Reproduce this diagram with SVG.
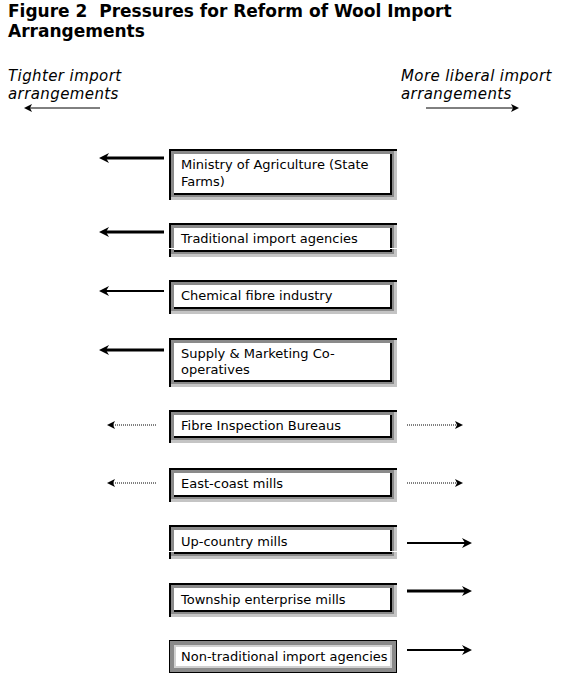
<svg xmlns="http://www.w3.org/2000/svg" width="580" height="698" viewBox="0 0 580 698">
<style>
.t{font-family:"DejaVu Sans",Verdana,sans-serif;font-size:13px;fill:#000}
.h{font-family:"DejaVu Sans",Verdana,sans-serif;font-size:17px;font-weight:bold;fill:#000;white-space:pre}
.i{font-family:"DejaVu Sans",Verdana,sans-serif;font-size:15px;font-style:italic;letter-spacing:0.4px;fill:#000}
.fr{fill:#8a8a8a}
.dk{fill:none;stroke:#000;stroke-width:2}
.lt{fill:none;stroke:#c4c4c4;stroke-width:3}
.in{fill:#fff}
.ib{fill:none;stroke:#000;stroke-width:2}
.wl{fill:none;stroke:#fff;stroke-width:1}
.a3{fill:none;stroke:#000;stroke-width:3}
.a2{fill:none;stroke:#000;stroke-width:2}
.a1{fill:none;stroke:#000;stroke-width:1}
.dt{fill:none;stroke:#000;stroke-width:1;stroke-dasharray:1 1}
.ah{fill:#000}
</style>
<defs>
<path id="hl" d="M0,0 L10,-5 L7,0 L10,5 Z"/>
<path id="hr" d="M0,0 L-10,-5 L-7,0 L-10,5 Z"/>
<path id="sl" d="M0,0 L8,-4 L6,0 L8,4 Z"/>
<path id="sr" d="M0,0 L-8,-4 L-6,0 L-8,4 Z"/>
</defs>
<rect width="580" height="698" fill="#fff"/>
<g id="title">
<text class="h" x="8" y="17" xml:space="preserve">Figure 2  Pressures for Reform of Wool Import</text>
<text class="h" x="8" y="37">Arrangements</text>
</g>
<g id="legend-left">
<text class="i" x="8" y="81">Tighter import</text>
<text class="i" x="8" y="99">arrangements</text>
</g>
<g id="legend-right">
<text class="i" x="401" y="81">More liberal import</text>
<text class="i" x="401" y="99">arrangements</text>
</g>
<g id="n1">
<rect class="fr" x="169" y="149" width="228" height="51"/>
<path class="lt" d="M395.5,150 V198.5 H169"/>
<path class="dk" d="M170,200 V150 H397"/>
<rect class="in" x="174" y="154" width="218" height="41"/>
<path class="ib" d="M391,154 V194 H174"/>
<text class="t" x="181" y="169">Ministry of Agriculture (State</text>
<text class="t" x="181" y="186">Farms)</text>
</g>
<g id="n2">
<rect class="fr" x="169" y="223" width="228" height="34"/>
<path class="lt" d="M395.5,224 V255.5 H169"/>
<path class="dk" d="M170,257 V224 H397"/>
<rect class="in" x="174" y="228" width="218" height="24"/>
<path class="ib" d="M391,228 V251 H174"/>
<path class="wl" d="M169,248.5 H399"/>
<text class="t" x="181" y="243">Traditional import agencies</text>
</g>
<g id="n3">
<rect class="fr" x="169" y="280" width="228" height="34"/>
<path class="lt" d="M395.5,281 V312.5 H169"/>
<path class="dk" d="M170,314 V281 H397"/>
<rect class="in" x="174" y="285" width="218" height="24"/>
<path class="ib" d="M391,285 V308 H174"/>
<text class="t" x="181" y="300">Chemical fibre industry</text>
</g>
<g id="n4">
<rect class="fr" x="169" y="338" width="228" height="49"/>
<path class="lt" d="M395.5,339 V385.5 H169"/>
<path class="dk" d="M170,387 V339 H397"/>
<rect class="in" x="174" y="343" width="218" height="39"/>
<path class="ib" d="M391,343 V381 H174"/>
<text class="t" x="181" y="358">Supply &amp; Marketing Co-</text>
<text class="t" x="181" y="374">operatives</text>
</g>
<g id="n5">
<rect class="fr" x="169" y="410" width="228" height="33"/>
<path class="lt" d="M395.5,411 V441.5 H169"/>
<path class="dk" d="M170,443 V411 H397"/>
<rect class="in" x="174" y="415" width="218" height="23"/>
<path class="ib" d="M391,415 V437 H174"/>
<text class="t" x="181" y="430">Fibre Inspection Bureaus</text>
</g>
<g id="n6">
<rect class="fr" x="169" y="468" width="228" height="34"/>
<path class="lt" d="M395.5,469 V500.5 H169"/>
<path class="dk" d="M170,502 V469 H397"/>
<rect class="in" x="174" y="473" width="218" height="24"/>
<path class="ib" d="M391,473 V496 H174"/>
<text class="t" x="181" y="488">East-coast mills</text>
</g>
<g id="n7">
<rect class="fr" x="169" y="525" width="228" height="34"/>
<path class="lt" d="M395.5,526 V557.5 H169"/>
<path class="dk" d="M170,559 V526 H397"/>
<rect class="in" x="174" y="530" width="218" height="24"/>
<path class="ib" d="M391,530 V553 H174"/>
<path class="wl" d="M169,551.5 H399"/>
<text class="t" x="181" y="546">Up-country mills</text>
</g>
<g id="n8">
<rect class="fr" x="169" y="583" width="228" height="34"/>
<path class="lt" d="M395.5,584 V615.5 H169"/>
<path class="dk" d="M170,617 V584 H397"/>
<rect class="in" x="174" y="588" width="218" height="24"/>
<path class="ib" d="M391,588 V611 H174"/>
<text class="t" x="181" y="604">Township enterprise mills</text>
</g>
<g id="n9">
<rect x="169.5" y="640.5" width="227" height="32" fill="#8a8a8a" stroke="#000" stroke-width="1"/>
<rect x="175" y="646" width="216" height="21" fill="#fff" stroke="#d0d0d0" stroke-width="2"/>
<text class="t" x="181" y="661">Non-traditional import agencies</text>
</g>
<g id="connectors">
<path class="a1" d="M100,108 H30"/><use href="#sl" class="ah" x="24" y="108"/>
<path class="a1" d="M426,108 H513"/><use href="#sr" class="ah" x="519" y="108"/>
<path class="a3" d="M164,158 H105"/><use href="#hl" class="ah" x="99" y="158"/>
<path class="a3" d="M164,232 H105"/><use href="#hl" class="ah" x="99" y="232"/>
<path class="a2" d="M164,291 H105"/><use href="#hl" class="ah" x="99" y="291"/>
<path class="a3" d="M164,350 H105"/><use href="#hl" class="ah" x="99" y="350"/>
<path class="dt" d="M156,425 H113"/><use href="#sl" class="ah" x="107" y="425"/>
<path class="dt" d="M156,483 H113"/><use href="#sl" class="ah" x="107" y="483"/>
<path class="dt" d="M407,425 H457"/><use href="#sr" class="ah" x="463" y="425"/>
<path class="dt" d="M407,483 H457"/><use href="#sr" class="ah" x="463" y="483"/>
<path class="a2" d="M407,543 H466"/><use href="#hr" class="ah" x="472" y="543"/>
<path class="a3" d="M407,591 H466"/><use href="#hr" class="ah" x="472" y="591"/>
<path class="a2" d="M407,650 H466"/><use href="#hr" class="ah" x="472" y="650"/>
</g>
</svg>
